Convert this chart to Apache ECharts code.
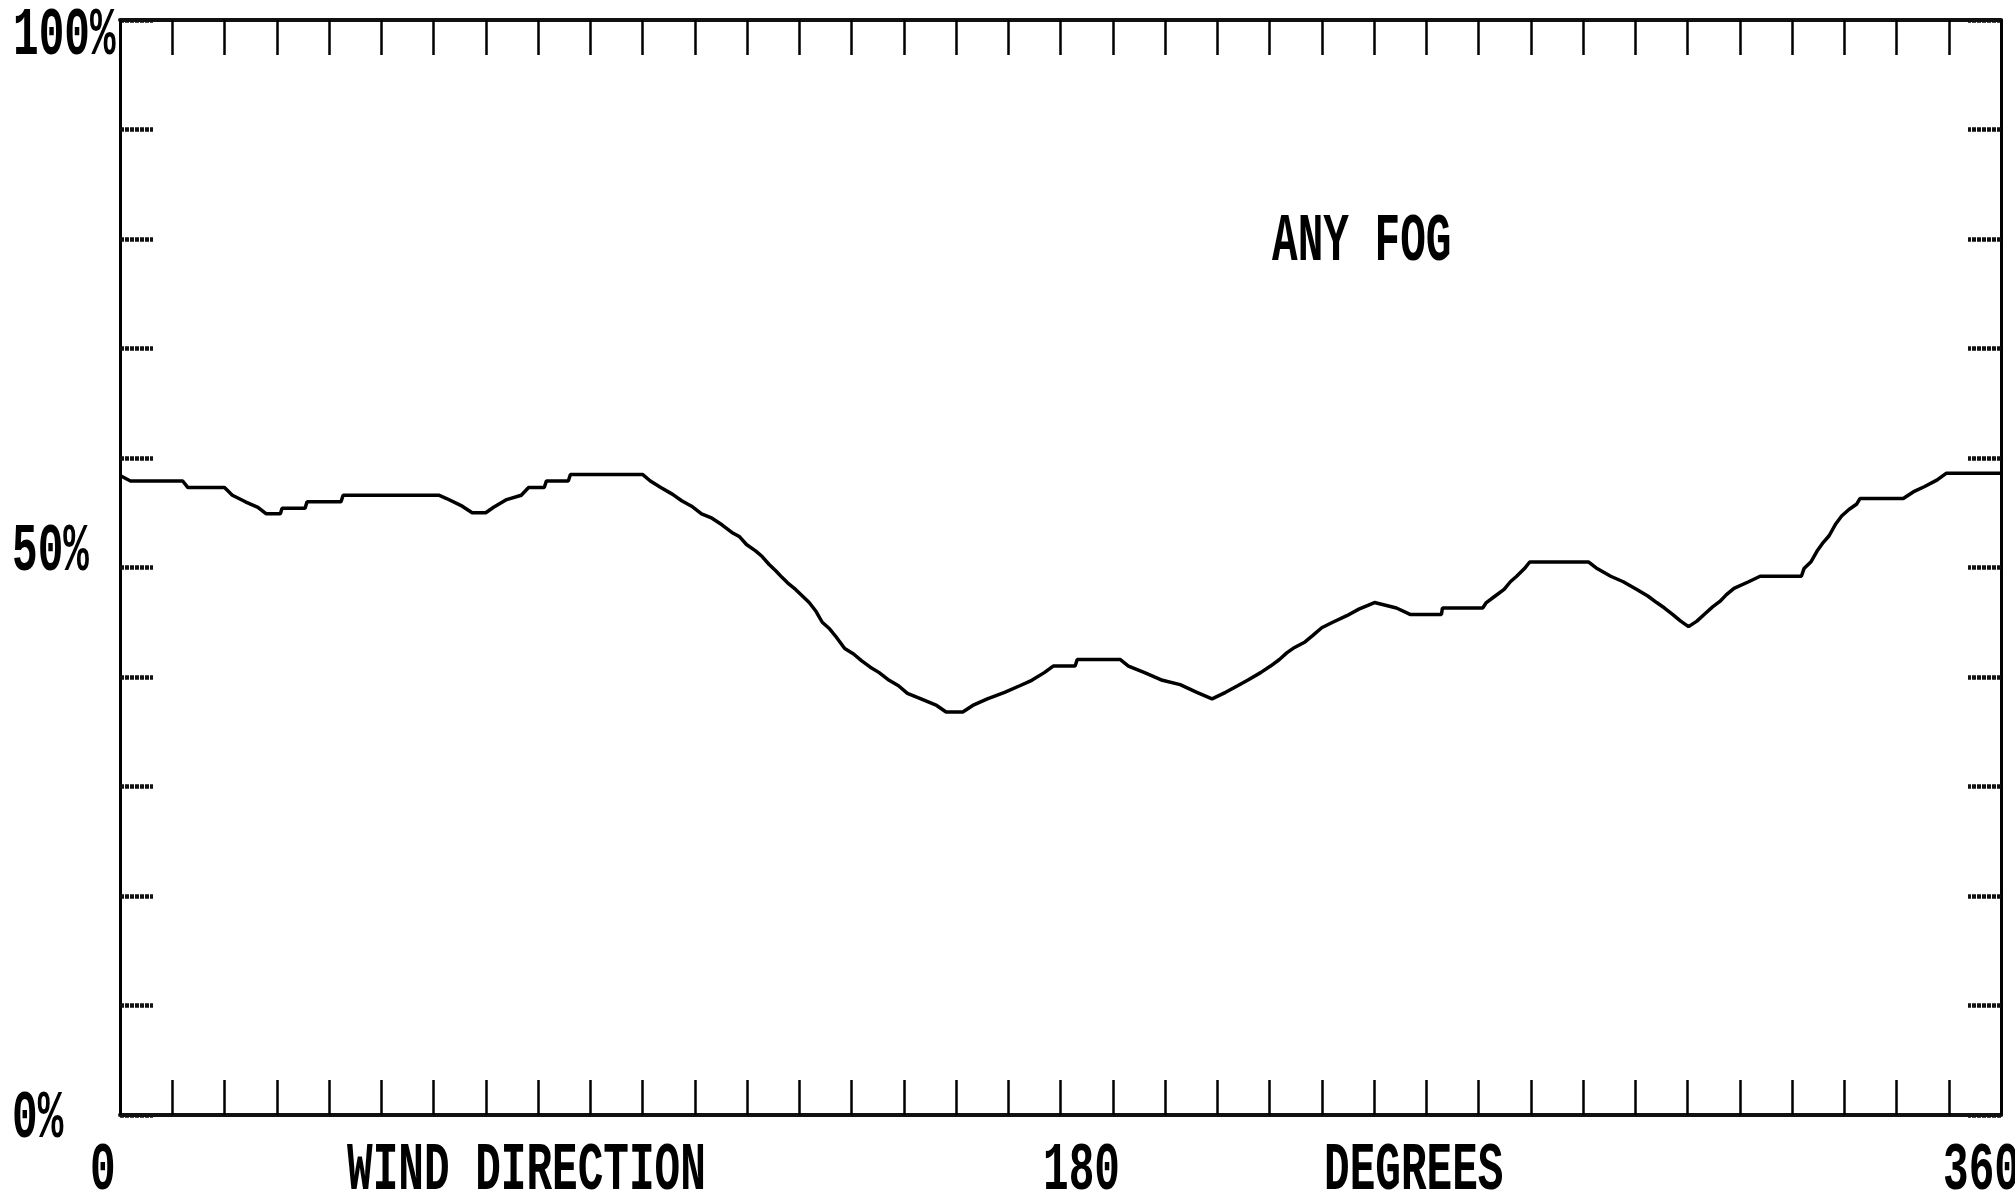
<!DOCTYPE html>
<html>
<head>
<meta charset="utf-8">
<script src="https://cdn.jsdelivr.net/npm/echarts@6/dist/echarts.min.js"></script>
<style>
  html, body { margin: 0; padding: 0; background: #fff; }
  #chart { width: 2015px; height: 1195px; }
</style>
</head>
<body>
<div id="chart"></div>
<script>
// ---- data ----
const windDirection = [0, 2, 12, 13, 20, 21.5, 24, 26.4, 28, 30.7, 31, 35.4, 35.8, 42.3, 42.7, 61, 62.5, 65.5, 67.4, 70,
  71.5, 74, 76.8, 78.2, 81.2, 81.6, 85.8, 86.2, 100, 101.5, 103.5, 105.7, 107.5, 109.4, 111.3, 113.3, 115.2, 117.1, 118.6, 119.9,
  121.7, 122.9, 124.2, 125.5, 126.7, 128.0, 129.3, 130.6, 131.9, 133.2, 134.4, 135.8, 137.0, 138.7, 140.4, 141.9, 143.6, 145.3, 147.2, 149.0,
  150.7, 153.3, 156.3, 158.1, 161.3, 163.2, 166.0, 169.3, 172.2, 174.5, 176.9, 178.6, 182.8, 183.2, 191.4, 193.0, 196.1, 199.5, 202.9, 206.1,
  209.0, 211.6, 213.9, 215.8, 218.3, 220.2, 221.9, 223.3, 224.8, 226.8, 228.3, 230.0, 232.1, 234.8, 237.1, 240.1, 244.3, 247.0, 252.9, 253.1,
  260.8, 261.5, 263.2, 264.9, 266.1, 267.3, 268.8, 269.8, 281.1, 282.7, 285.3, 287.7, 290.3, 292.4, 294.1, 295.6, 297.2, 298.7, 300.2, 301.8,
  303.4, 304.8, 306.2, 307.4, 308.9, 311.7, 313.9, 321.8, 322.3, 323.6, 324.8, 326.0, 327.1, 328.4, 329.5, 330.9, 332.4, 333.0, 341.3, 343.2,
  345.4, 347.8, 349.5, 360];
const anyFog = [58.4, 57.9, 57.9, 57.3, 57.3, 56.6, 56.0, 55.5, 54.9, 54.9, 55.4, 55.4, 56.0, 56.0, 56.6, 56.6, 56.3, 55.6, 55.0, 55.0,
  55.5, 56.2, 56.6, 57.3, 57.3, 57.9, 57.9, 58.5, 58.5, 57.9, 57.3, 56.7, 56.1, 55.6, 54.9, 54.5, 53.9, 53.2, 52.8, 52.1,
  51.5, 51.0, 50.3, 49.7, 49.1, 48.5, 48.0, 47.4, 46.8, 46.0, 45.0, 44.4, 43.7, 42.6, 42.1, 41.5, 40.9, 40.4, 39.7, 39.2,
  38.5, 38.0, 37.4, 36.8, 36.8, 37.4, 38.0, 38.6, 39.2, 39.7, 40.4, 41.0, 41.0, 41.6, 41.6, 41.0, 40.4, 39.7, 39.3, 38.6,
  38.0, 38.6, 39.2, 39.7, 40.4, 41.0, 41.6, 42.2, 42.7, 43.2, 43.8, 44.5, 45.0, 45.6, 46.2, 46.8, 46.3, 45.7, 45.7, 46.3,
  46.3, 46.8, 47.4, 48.0, 48.7, 49.2, 49.9, 50.5, 50.5, 49.9, 49.2, 48.7, 48.0, 47.4, 46.8, 46.3, 45.7, 45.1, 44.6, 45.1,
  45.8, 46.4, 46.9, 47.5, 48.1, 48.7, 49.2, 49.2, 49.9, 50.5, 51.5, 52.3, 52.9, 54.0, 54.7, 55.3, 55.8, 56.3, 56.3, 56.9,
  57.4, 58.0, 58.6, 58.6];
const yTickLabels = ['100%', '50%', '0%'];
const xTickLabels = ['0', '180', '360'];
const axisTitles = ['WIND DIRECTION', 'DEGREES'];
const seriesName = 'ANY FOG';

// ---- chart ----
const chart = echarts.init(document.getElementById('chart'), null, { renderer: 'canvas' });
const FONT = 'bold 68px "Liberation Mono", "DejaVu Sans Mono", monospace';
const SX = 0.628;
function label(text, x, y) {
  return {
    type: 'text', x: x, y: y, scaleX: SX, scaleY: 1, originX: 0, originY: 0,
    style: { text: text, x: 0, y: 0, font: FONT, fill: '#000',
      align: 'left', verticalAlign: 'middle', textAlign: 'left', textVerticalAlign: 'middle' }
  };
}
const axisBase = {
  splitLine: { show: false },
  axisLabel: { show: false }
};
chart.setOption({
  animation: false,
  backgroundColor: '#fff',
  grid: { left: 120, right: 14, top: 20, bottom: 80, containLabel: false },
  xAxis: [
    Object.assign({}, axisBase, {
      type: 'value', position: 'bottom', min: 0, max: 360, interval: 10,
      axisLine: { show: true, onZero: false, lineStyle: { color: '#111', width: 4, type: [3, 1] } },
      axisTick: { show: true, inside: true, length: 35, lineStyle: { color: '#000', width: 2.5 } }
    }),
    Object.assign({}, axisBase, {
      type: 'value', position: 'top', min: 0, max: 360, interval: 10,
      axisLine: { show: true, onZero: false, lineStyle: { color: '#111', width: 4, type: [3, 1] } },
      axisTick: { show: true, inside: true, length: 35, lineStyle: { color: '#000', width: 2.5 } }
    })
  ],
  yAxis: [
    Object.assign({}, axisBase, {
      type: 'value', position: 'left', min: 0, max: 100, interval: 10,
      axisLine: { show: true, onZero: false, lineStyle: { color: '#000', width: 3 } },
      axisTick: { show: true, inside: true, length: 33, lineStyle: { color: '#111', width: 4.5, type: [4, 1] } }
    }),
    Object.assign({}, axisBase, {
      type: 'value', position: 'right', min: 0, max: 100, interval: 10,
      axisLine: { show: true, onZero: false, lineStyle: { color: '#000', width: 3 } },
      axisTick: { show: true, inside: true, length: 33, lineStyle: { color: '#111', width: 4.5, type: [4, 1] } }
    })
  ],
  series: [{
    name: seriesName,
    type: 'line',
    xAxisIndex: 0, yAxisIndex: 0,
    showSymbol: false,
    smooth: false,
    lineStyle: { color: '#000', width: 3.5 },
    data: windDirection.map((d, i) => [d, anyFog[i]])
  }],
  graphic: [
    label(yTickLabels[0], 13, 37),
    label(yTickLabels[1], 12, 553),
    label(yTickLabels[2], 12, 1120),
    label(xTickLabels[0], 90, 1172),
    label(xTickLabels[1], 1043, 1172),
    label(xTickLabels[2], 1943, 1172),
    label(axisTitles[0], 347, 1172),
    label(axisTitles[1], 1324, 1172),
    label(seriesName, 1272, 243)
  ]
});
</script>
</body>
</html>
